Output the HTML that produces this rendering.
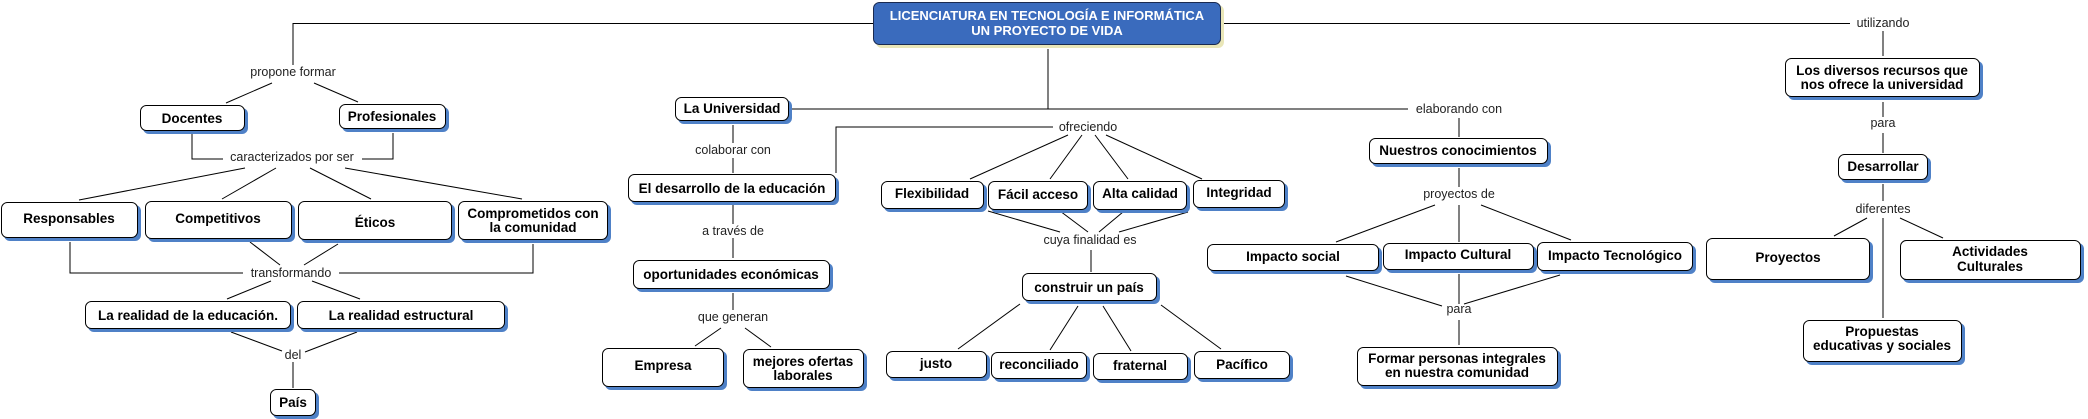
<!DOCTYPE html>
<html><head><meta charset="utf-8"><style>
html,body{margin:0;padding:0;background:#fff;}
svg{display:block;}
.b{font:bold 13.5px "Liberation Sans",sans-serif;fill:#000;}
.l{font:12.5px "Liberation Sans",sans-serif;fill:#222;}
line,polyline{stroke:#000;stroke-width:1;fill:none;}
.bx{fill:#fff;stroke:#000;stroke-width:1;}
.sh{fill:#4f81c7;}
</style></head><body>
<svg width="2088" height="419" viewBox="0 0 2088 419" xmlns="http://www.w3.org/2000/svg">
<!-- connectors -->
<polyline points="873,23.5 293,23.5 293,65"/>
<line x1="1221" y1="23.5" x2="1850" y2="23.5"/>
<line x1="272" y1="83" x2="226" y2="103"/><line x1="314" y1="83" x2="358" y2="102"/>
<polyline points="192,134 192,159 223,159"/><polyline points="393,133 393,159 362,159"/>
<line x1="245" y1="168" x2="79" y2="200"/><line x1="276" y1="168" x2="222" y2="199"/>
<line x1="310" y1="168" x2="371" y2="199"/><line x1="345" y1="168" x2="522" y2="199"/>
<polyline points="70,242 70,273 243,273"/><polyline points="533,244 533,273 339,273"/>
<line x1="250" y1="242" x2="280" y2="265"/><line x1="338" y1="244" x2="304" y2="265"/>
<line x1="271" y1="281" x2="227" y2="299"/><line x1="312" y1="281" x2="360" y2="299"/>
<line x1="231" y1="332" x2="282" y2="351"/><line x1="357" y1="332" x2="305" y2="352"/>
<line x1="293" y1="362" x2="293" y2="388"/>
<line x1="1048" y1="49" x2="1048" y2="109"/>
<line x1="789" y1="109" x2="1408" y2="109"/>
<line x1="733" y1="125" x2="733" y2="143"/><line x1="733" y1="158" x2="733" y2="173"/>
<polyline points="836,173 836,127 1053,127"/>
<line x1="1068" y1="135" x2="970" y2="179"/><line x1="1082" y1="135" x2="1050" y2="179"/>
<line x1="1095" y1="135" x2="1128" y2="179"/><line x1="1106" y1="135" x2="1202" y2="179"/>
<line x1="988" y1="211" x2="1060" y2="232"/><line x1="1060" y1="211" x2="1088" y2="232"/>
<line x1="1123" y1="212" x2="1099" y2="232"/><line x1="1188" y1="212" x2="1119" y2="232"/>
<line x1="1091" y1="250" x2="1091" y2="272"/>
<line x1="1020" y1="304" x2="958" y2="349"/><line x1="1078" y1="306" x2="1050" y2="350"/>
<line x1="1103" y1="306" x2="1131" y2="351"/><line x1="1161" y1="305" x2="1221" y2="349"/>
<line x1="733" y1="205" x2="733" y2="224"/><line x1="733" y1="238" x2="733" y2="258"/>
<line x1="733" y1="293" x2="733" y2="310"/>
<line x1="721" y1="328" x2="695" y2="346"/><line x1="745" y1="328" x2="771" y2="347"/>
<line x1="1883" y1="31" x2="1883" y2="56"/>
<line x1="1883" y1="102" x2="1883" y2="117"/><line x1="1883" y1="133" x2="1883" y2="153"/>
<line x1="1883" y1="184" x2="1883" y2="201"/>
<line x1="1867" y1="218" x2="1834" y2="236"/><line x1="1900" y1="218" x2="1943" y2="238"/>
<line x1="1883" y1="218" x2="1883" y2="318"/>
<line x1="1459" y1="118" x2="1459" y2="137"/>
<line x1="1459" y1="168" x2="1459" y2="187"/>
<line x1="1435" y1="205" x2="1336" y2="242"/><line x1="1459" y1="205" x2="1459" y2="242"/>
<line x1="1481" y1="205" x2="1571" y2="240"/>
<line x1="1346" y1="276" x2="1442" y2="306"/><line x1="1459" y1="274" x2="1459" y2="304"/>
<line x1="1560" y1="275" x2="1464" y2="304"/>
<line x1="1459" y1="320" x2="1459" y2="345"/>

<!-- labels -->
<g class="l" text-anchor="middle">
<text x="293" y="76">propone formar</text>
<text x="292" y="161">caracterizados por ser</text>
<text x="291" y="277">transformando</text>
<text x="293" y="359">del</text>
<text x="733" y="154">colaborar con</text>
<text x="1088" y="131">ofreciendo</text>
<text x="1090" y="244">cuya finalidad es</text>
<text x="733" y="235">a través de</text>
<text x="733" y="321">que generan</text>
<text x="1883" y="27">utilizando</text>
<text x="1883" y="127">para</text>
<text x="1883" y="213">diferentes</text>
<text x="1459" y="113">elaborando con</text>
<text x="1459" y="198">proyectos de</text>
<text x="1459" y="313">para</text>
</g>

<!-- title -->
<rect x="876" y="5" width="348" height="43" rx="6" fill="#e9e6b8"/>
<rect x="873.5" y="2.5" width="347" height="42" rx="6" fill="#3a6bbd" stroke="#1a2a50"/>
<g font-family="Liberation Sans,sans-serif" font-weight="bold" font-size="13" fill="#fff" text-anchor="middle">
<text x="1047" y="20">LICENCIATURA EN TECNOLOGÍA E INFORMÁTICA</text>
<text x="1047" y="35">UN PROYECTO DE VIDA</text>
</g>

<!-- boxes -->
<g>
<rect class="sh" x="143" y="108" width="105" height="26" rx="6"/><rect class="bx" x="140.5" y="105.5" width="104" height="25" rx="6"/>
<rect class="sh" x="342" y="107" width="107" height="25" rx="6"/><rect class="bx" x="339.5" y="104.5" width="106" height="24" rx="6"/>
<rect class="sh" x="4" y="205" width="137" height="36" rx="6"/><rect class="bx" x="1.5" y="202.5" width="136" height="35" rx="6"/>
<rect class="sh" x="148" y="204" width="147" height="38" rx="6"/><rect class="bx" x="145.5" y="201.5" width="146" height="37" rx="6"/>
<rect class="sh" x="301" y="204" width="154" height="39" rx="6"/><rect class="bx" x="298.5" y="201.5" width="153" height="38" rx="6"/>
<rect class="sh" x="461" y="204" width="150" height="39" rx="6"/><rect class="bx" x="458.5" y="201.5" width="149" height="38" rx="6"/>
<rect class="sh" x="88" y="304" width="206" height="28" rx="6"/><rect class="bx" x="85.5" y="301.5" width="205" height="27" rx="6"/>
<rect class="sh" x="300" y="304" width="208" height="28" rx="6"/><rect class="bx" x="297.5" y="301.5" width="207" height="27" rx="6"/>
<rect class="sh" x="273" y="392" width="46" height="27" rx="6"/><rect class="bx" x="270.5" y="389.5" width="45" height="26" rx="6"/>
<rect class="sh" x="678" y="100" width="114" height="24" rx="6"/><rect class="bx" x="675.5" y="97.5" width="113" height="23" rx="6"/>
<rect class="sh" x="631" y="177" width="208" height="28" rx="6"/><rect class="bx" x="628.5" y="174.5" width="207" height="27" rx="6"/>
<rect class="sh" x="636" y="263" width="197" height="29" rx="6"/><rect class="bx" x="633.5" y="260.5" width="196" height="28" rx="6"/>
<rect class="sh" x="605" y="351" width="122" height="39" rx="6"/><rect class="bx" x="602.5" y="348.5" width="121" height="38" rx="6"/>
<rect class="sh" x="746" y="352" width="121" height="39" rx="6"/><rect class="bx" x="743.5" y="349.5" width="120" height="38" rx="6"/>
<rect class="sh" x="884" y="184" width="103" height="28" rx="6"/><rect class="bx" x="881.5" y="181.5" width="102" height="27" rx="6"/>
<rect class="sh" x="991" y="184" width="100" height="29" rx="6"/><rect class="bx" x="988.5" y="181.5" width="99" height="28" rx="6"/>
<rect class="sh" x="1096" y="184" width="94" height="29" rx="6"/><rect class="bx" x="1093.5" y="181.5" width="93" height="28" rx="6"/>
<rect class="sh" x="1196" y="183" width="92" height="28" rx="6"/><rect class="bx" x="1193.5" y="180.5" width="91" height="27" rx="6"/>
<rect class="sh" x="1025" y="276" width="135" height="28" rx="6"/><rect class="bx" x="1022.5" y="273.5" width="134" height="27" rx="6"/>
<rect class="sh" x="889" y="354" width="101" height="27" rx="6"/><rect class="bx" x="886.5" y="351.5" width="100" height="26" rx="6"/>
<rect class="sh" x="994" y="355" width="96" height="27" rx="6"/><rect class="bx" x="991.5" y="352.5" width="95" height="26" rx="6"/>
<rect class="sh" x="1096" y="356" width="95" height="27" rx="6"/><rect class="bx" x="1093.5" y="353.5" width="94" height="26" rx="6"/>
<rect class="sh" x="1197" y="354" width="96" height="28" rx="6"/><rect class="bx" x="1194.5" y="351.5" width="95" height="27" rx="6"/>
<rect class="sh" x="1788" y="61" width="195" height="39" rx="6"/><rect class="bx" x="1785.5" y="58.5" width="194" height="38" rx="6"/>
<rect class="sh" x="1841" y="157" width="90" height="26" rx="6"/><rect class="bx" x="1838.5" y="154.5" width="89" height="25" rx="6"/>
<rect class="sh" x="1709" y="241" width="164" height="42" rx="6"/><rect class="bx" x="1706.5" y="238.5" width="163" height="41" rx="6"/>
<rect class="sh" x="1903" y="243" width="181" height="40" rx="6"/><rect class="bx" x="1900.5" y="240.5" width="180" height="39" rx="6"/>
<rect class="sh" x="1806" y="323" width="159" height="42" rx="6"/><rect class="bx" x="1803.5" y="320.5" width="158" height="41" rx="6"/>
<rect class="sh" x="1372" y="141" width="179" height="26" rx="6"/><rect class="bx" x="1369.5" y="138.5" width="178" height="25" rx="6"/>
<rect class="sh" x="1210" y="247" width="172" height="27" rx="6"/><rect class="bx" x="1207.5" y="244.5" width="171" height="26" rx="6"/>
<rect class="sh" x="1386" y="246" width="151" height="27" rx="6"/><rect class="bx" x="1383.5" y="243.5" width="150" height="26" rx="6"/>
<rect class="sh" x="1540" y="245" width="156" height="29" rx="6"/><rect class="bx" x="1537.5" y="242.5" width="155" height="28" rx="6"/>
<rect class="sh" x="1360" y="350" width="201" height="39" rx="6"/><rect class="bx" x="1357.5" y="347.5" width="200" height="38" rx="6"/>
</g>

<g class="b" text-anchor="middle">
<text x="192" y="123">Docentes</text>
<text x="392" y="121">Profesionales</text>
<text x="69" y="223">Responsables</text>
<text x="218" y="223">Competitivos</text>
<text x="375" y="227">Éticos</text>
<text x="533" y="218">Comprometidos con</text>
<text x="533" y="232">la comunidad</text>
<text x="188" y="320">La realidad  de la educación.</text>
<text x="401" y="320">La realidad estructural</text>
<text x="293" y="407">País</text>
<text x="732" y="113">La Universidad</text>
<text x="732" y="193">El desarrollo de la educación</text>
<text x="731" y="279">oportunidades económicas</text>
<text x="663" y="370">Empresa</text>
<text x="803" y="366">mejores ofertas</text>
<text x="803" y="380">laborales</text>
<text x="932" y="198">Flexibilidad</text>
<text x="1038" y="199">Fácil acceso</text>
<text x="1140" y="198">Alta calidad</text>
<text x="1239" y="197">Integridad</text>
<text x="1089" y="292">construir un país</text>
<text x="936" y="368">justo</text>
<text x="1039" y="369">reconciliado</text>
<text x="1140" y="370">fraternal</text>
<text x="1242" y="369">Pacífico</text>
<text x="1882" y="75">Los diversos recursos que</text>
<text x="1882" y="89">nos ofrece la universidad</text>
<text x="1883" y="171">Desarrollar</text>
<text x="1788" y="262">Proyectos</text>
<text x="1990" y="256">Actividades</text>
<text x="1990" y="271">Culturales</text>
<text x="1882" y="336">Propuestas</text>
<text x="1882" y="350">educativas y sociales</text>
<text x="1458" y="155">Nuestros conocimientos</text>
<text x="1293" y="261">Impacto social</text>
<text x="1458" y="259">Impacto Cultural</text>
<text x="1615" y="260">Impacto Tecnológico</text>
<text x="1457" y="363">Formar personas integrales</text>
<text x="1457" y="377">en nuestra comunidad</text>
</g>
</svg>
</body></html>
